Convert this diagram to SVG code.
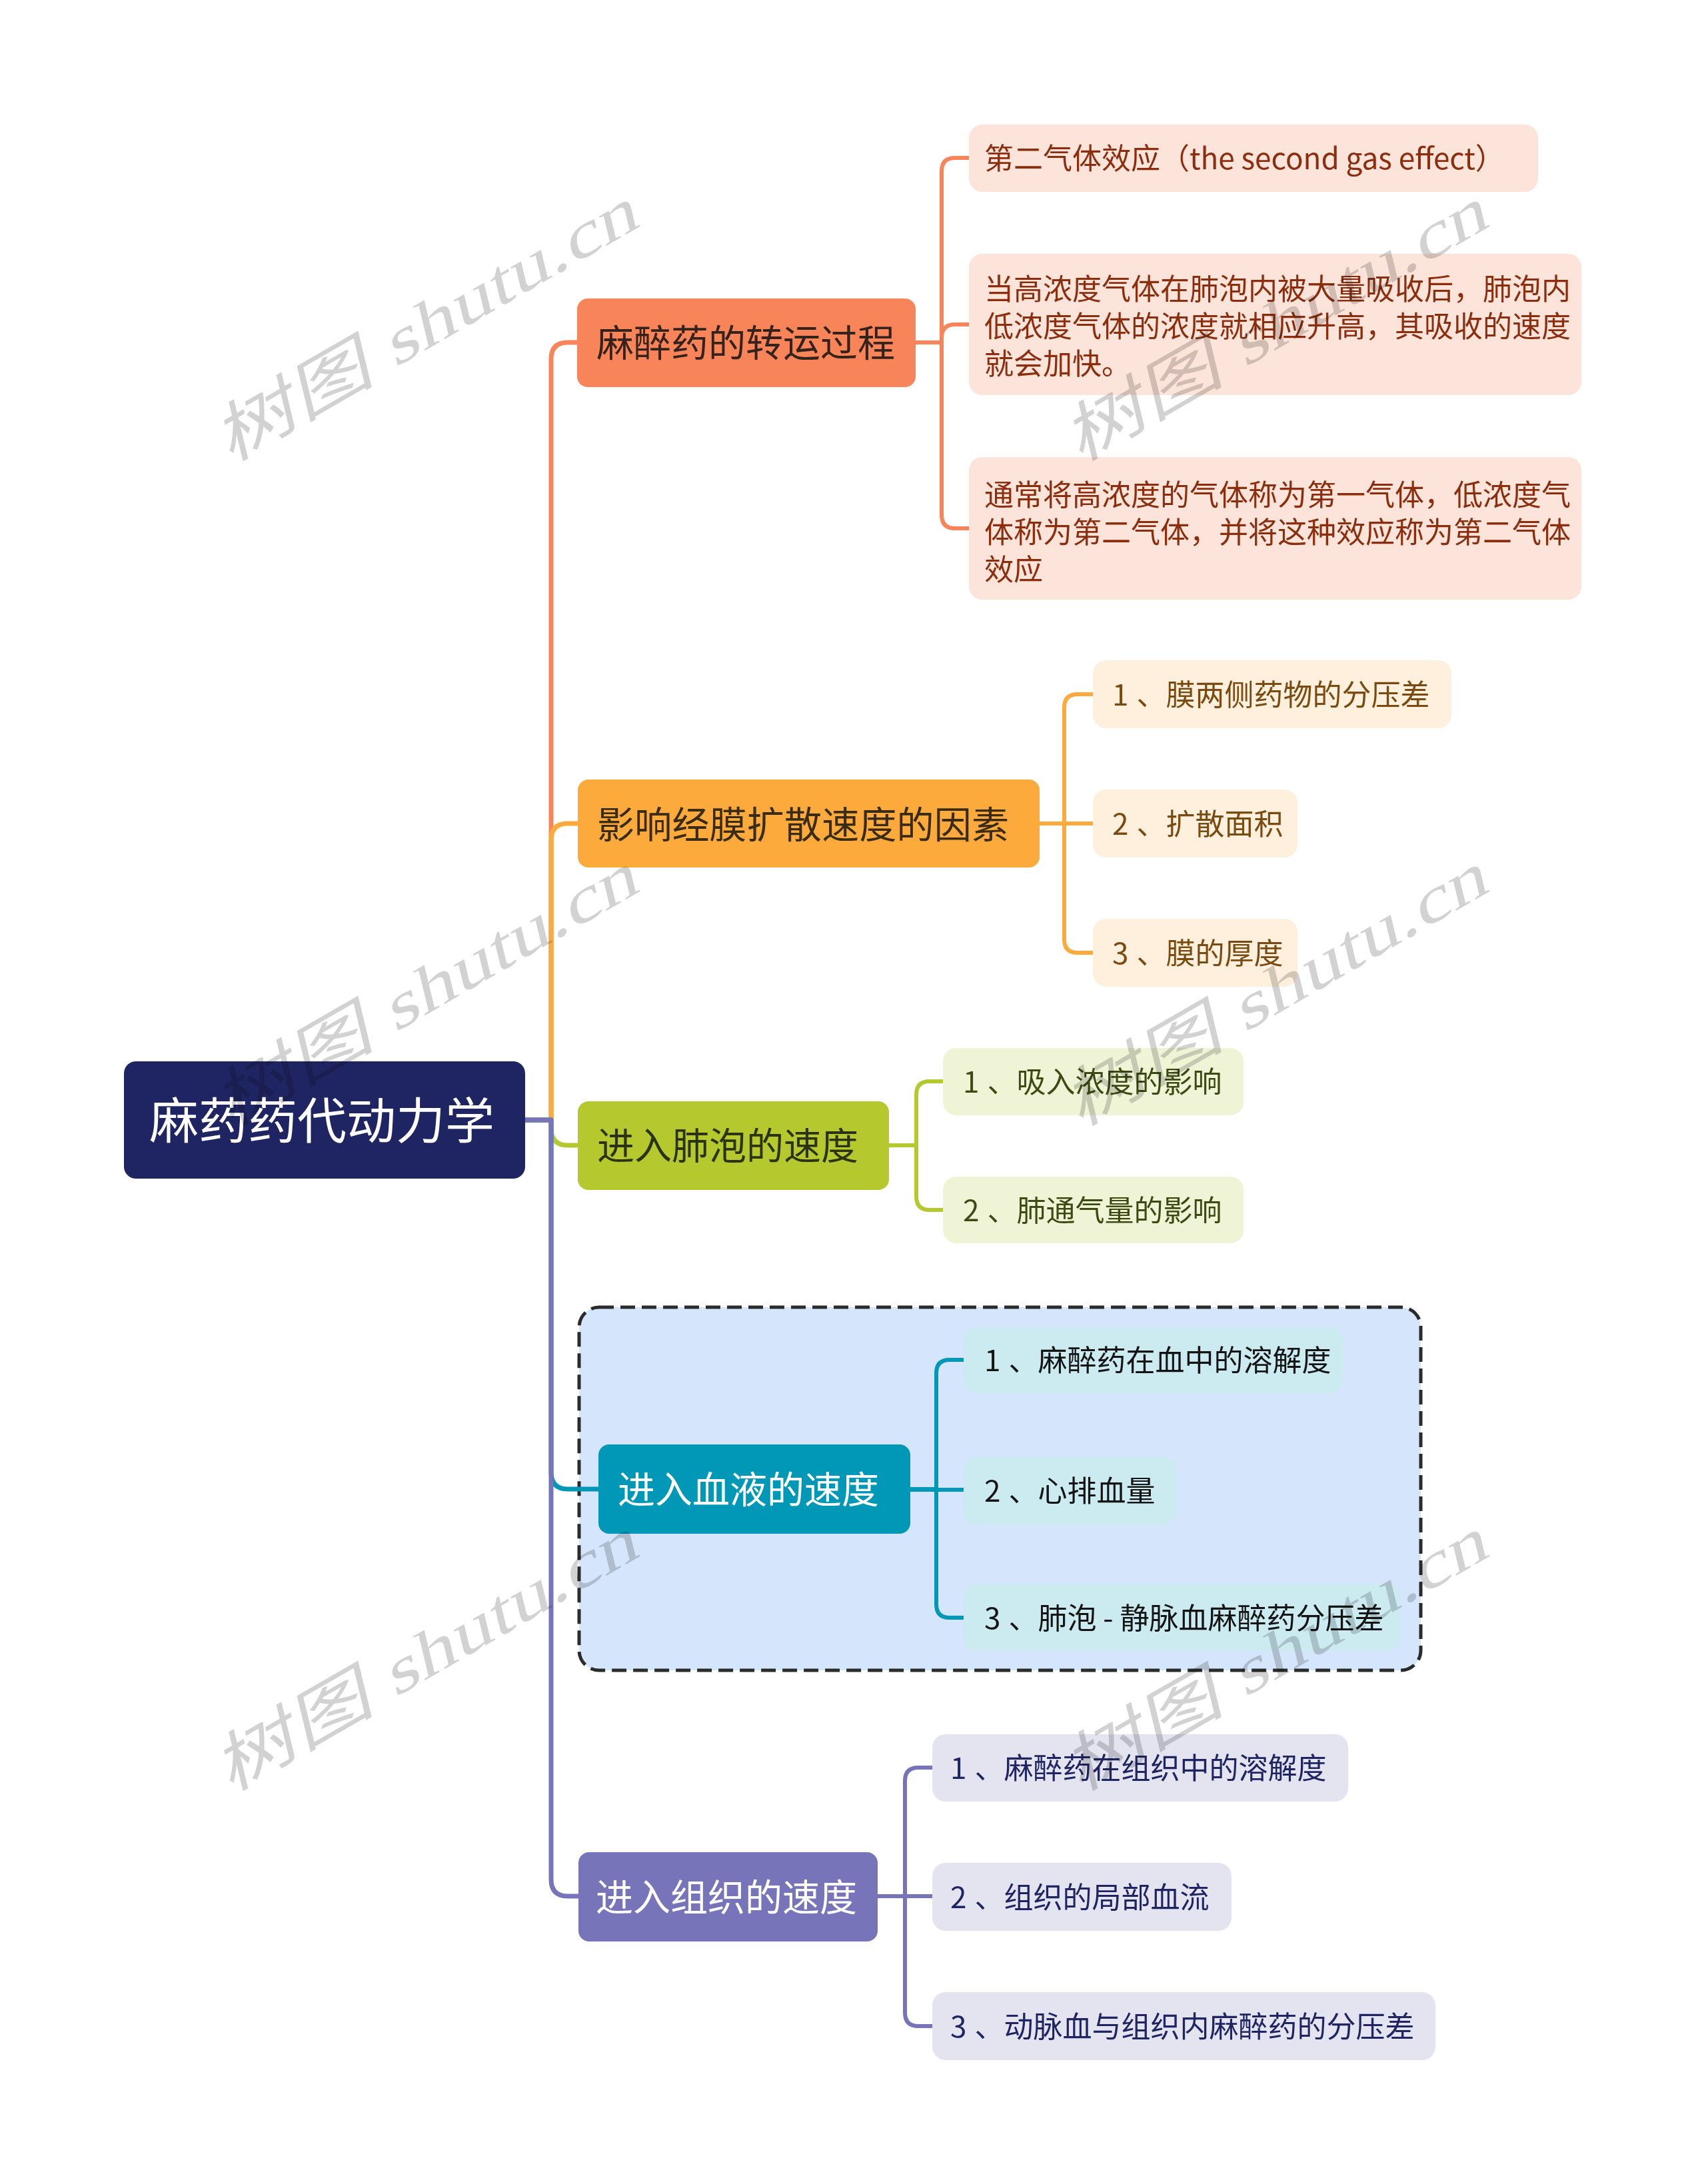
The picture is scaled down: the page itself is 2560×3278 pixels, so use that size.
<svg xmlns="http://www.w3.org/2000/svg" width="2560" height="3278" viewBox="0 0 2560 3278">
<style>
text{font-family:"Noto Sans CJK SC","Noto Sans",sans-serif;}
.main{fill:none;stroke-width:7;stroke-linejoin:round;}
.sub{fill:none;stroke-width:6;stroke-linejoin:round;}
.t56{font-size:56px;}
.t44{font-size:44px;}
.wm{font-family:"Liberation Serif","Noto Sans CJK SC",serif;font-size:110px;fill:#d2d2d2;mix-blend-mode:multiply;}
</style>
<rect width="2560" height="3278" fill="#ffffff"/>
<g id="boundary">
<rect x="869" y="1962" width="1263" height="545" rx="30" fill="#D5E5FB" stroke="#2b2b2b" stroke-width="5" stroke-dasharray="22 10"/>
</g>
<g id="connectors">
<path class="main" stroke="#F8845A" d="M788,1681 H827 V539 Q827,514 852,514 H866"/>
<path class="main" stroke="#FBAA3B" d="M788,1681 H827 V1261 Q827,1236 852,1236 H867"/>
<path class="main" stroke="#B5C92E" d="M788,1681 H827 V1694 Q827,1719 852,1719 H867"/>
<path class="main" stroke="#0098B6" d="M788,1681 H827 V2210 Q827,2235 852,2235 H898"/>
<path class="main" stroke="#7774BA" d="M788,1681 H827 V2821 Q827,2846 852,2846 H868"/>
<path class="sub" stroke="#F8845A" d="M1374,514 H1413 V257 Q1413,237 1433,237 H1454"/>
<path class="sub" stroke="#F8845A" d="M1374,514 H1413 V507 Q1413,487 1433,487 H1454"/>
<path class="sub" stroke="#F8845A" d="M1374,514 H1413 V773 Q1413,793 1433,793 H1454"/>
<path class="sub" stroke="#FBAA3B" d="M1560,1236 H1597 V1062 Q1597,1042 1617,1042 H1640"/>
<path class="sub" stroke="#FBAA3B" d="M1560,1236 H1640"/>
<path class="sub" stroke="#FBAA3B" d="M1560,1236 H1597 V1410 Q1597,1430 1617,1430 H1640"/>
<path class="sub" stroke="#B5C92E" d="M1334,1719 H1375 V1643 Q1375,1623 1395,1623 H1415"/>
<path class="sub" stroke="#B5C92E" d="M1334,1719 H1375 V1796 Q1375,1816 1395,1816 H1415"/>
<path class="sub" stroke="#0098B6" d="M1366,2235 H1405 V2061 Q1405,2041 1425,2041 H1446"/>
<path class="sub" stroke="#0098B6" d="M1366,2236 H1446"/>
<path class="sub" stroke="#0098B6" d="M1366,2235 H1405 V2408 Q1405,2428 1425,2428 H1446"/>
<path class="sub" stroke="#7774BA" d="M1317,2846 H1358 V2673 Q1358,2653 1378,2653 H1399"/>
<path class="sub" stroke="#7774BA" d="M1317,2846 H1399"/>
<path class="sub" stroke="#7774BA" d="M1317,2846 H1358 V3021 Q1358,3041 1378,3041 H1399"/>
</g>
<g id="root">
<rect x="186" y="1593" width="602" height="176" rx="18" fill="#1F2462"/>
<text x="224" y="1709" font-size="74" fill="#ffffff">麻药药代动力学</text>
</g>
<g id="b1">
<rect x="866" y="448" width="508" height="133" rx="16" fill="#F8845A"/>
<text class="t56" x="895" y="535" fill="#35231b">麻醉药的转运过程</text>
</g>
<g id="b1c1">
<rect x="1454" y="187" width="854" height="101" rx="20" fill="#FDE4DA"/>
<text class="t44" x="1477" y="254" fill="#8C2E0E">第二气体效应（the second gas effect）</text>
</g>
<g id="b1c2">
<rect x="1454" y="381" width="919" height="212" rx="20" fill="#FDE4DA"/>
<text class="t44" fill="#8C2E0E"><tspan x="1477" y="450">当高浓度气体在肺泡内被大量吸收后，肺泡内</tspan><tspan x="1477" y="506">低浓度气体的浓度就相应升高，其吸收的速度</tspan><tspan x="1477" y="562">就会加快。</tspan></text>
</g>
<g id="b1c3">
<rect x="1454" y="686" width="919" height="214" rx="20" fill="#FDE4DA"/>
<text class="t44" fill="#8C2E0E"><tspan x="1477" y="759">通常将高浓度的气体称为第一气体，低浓度气</tspan><tspan x="1477" y="815">体称为第二气体，并将这种效应称为第二气体</tspan><tspan x="1477" y="871">效应</tspan></text>
</g>
<g id="b2">
<rect x="867" y="1170" width="693" height="132" rx="16" fill="#FBAA3B"/>
<text class="t56" x="896" y="1258" fill="#3a2c14" textLength="618" lengthAdjust="spacing">影响经膜扩散速度的因素</text>
</g>
<g id="b2c1">
<rect x="1640" y="991" width="538" height="102" rx="20" fill="#FEF0DC"/>
<text class="t44" x="1669" y="1059" fill="#7A4A10">1<tspan dx="12">、膜两侧药物的分压差</tspan></text>
</g>
<g id="b2c2">
<rect x="1640" y="1185" width="307" height="102" rx="20" fill="#FEF0DC"/>
<text class="t44" x="1669" y="1253" fill="#7A4A10">2<tspan dx="12">、扩散面积</tspan></text>
</g>
<g id="b2c3">
<rect x="1640" y="1379" width="307" height="102" rx="20" fill="#FEF0DC"/>
<text class="t44" x="1669" y="1447" fill="#7A4A10">3<tspan dx="12">、膜的厚度</tspan></text>
</g>
<g id="b3">
<rect x="867" y="1653" width="467" height="133" rx="16" fill="#B5C92E"/>
<text class="t56" x="896" y="1740" fill="#2c3312">进入肺泡的速度</text>
</g>
<g id="b3c1">
<rect x="1415" y="1573" width="451" height="101" rx="20" fill="#EFF4D7"/>
<text class="t44" x="1445" y="1640" fill="#3F4A12">1<tspan dx="12">、吸入浓度的影响</tspan></text>
</g>
<g id="b3c2">
<rect x="1415" y="1766" width="451" height="100" rx="20" fill="#EFF4D7"/>
<text class="t44" x="1445" y="1833" fill="#3F4A12">2<tspan dx="12">、肺通气量的影响</tspan></text>
</g>
<g id="b4">
<rect x="898" y="2168" width="468" height="134" rx="16" fill="#0098B6"/>
<text class="t56" x="927" y="2256" fill="#ffffff">进入血液的速度</text>
</g>
<g id="b4c1">
<rect x="1446" y="1992" width="569" height="99" rx="20" fill="#CCEBF1"/>
<text class="t44" x="1477" y="2058" fill="#141414">1<tspan dx="12">、麻醉药在血中的溶解度</tspan></text>
</g>
<g id="b4c2">
<rect x="1446" y="2186" width="319" height="102" rx="20" fill="#CCEBF1"/>
<text class="t44" x="1477" y="2254" fill="#141414">2<tspan dx="12">、心排血量</tspan></text>
</g>
<g id="b4c3">
<rect x="1446" y="2377" width="655" height="101" rx="20" fill="#CCEBF1"/>
<text class="t44" x="1477" y="2445" fill="#141414">3<tspan dx="12">、肺泡 - 静脉血麻醉药分压差</tspan></text>
</g>
<g id="b5">
<rect x="868" y="2780" width="449" height="134" rx="16" fill="#7774BA"/>
<text class="t56" x="894" y="2868" fill="#ffffff">进入组织的速度</text>
</g>
<g id="b5c1">
<rect x="1399" y="2603" width="624" height="101" rx="20" fill="#E4E4F1"/>
<text class="t44" x="1426" y="2670" fill="#1F2462">1<tspan dx="12">、麻醉药在组织中的溶解度</tspan></text>
</g>
<g id="b5c2">
<rect x="1399" y="2796" width="449" height="102" rx="20" fill="#E4E4F1"/>
<text class="t44" x="1426" y="2864" fill="#1F2462">2<tspan dx="12">、组织的局部血流</tspan></text>
</g>
<g id="b5c3">
<rect x="1399" y="2990" width="755" height="102" rx="20" fill="#E4E4F1"/>
<text class="t44" x="1426" y="3058" fill="#1F2462">3<tspan dx="12">、动脉血与组织内麻醉药的分压差</tspan></text>
</g>
<g id="watermarks">
<text class="wm" transform="translate(345,695) skewY(-30) skewX(12)">树图 shutu.cn</text>
<text class="wm" transform="translate(1620,695) skewY(-30) skewX(12)">树图 shutu.cn</text>
<text class="wm" transform="translate(345,1693) skewY(-30) skewX(12)">树图 shutu.cn</text>
<text class="wm" transform="translate(1620,1693) skewY(-30) skewX(12)">树图 shutu.cn</text>
<text class="wm" transform="translate(345,2691) skewY(-30) skewX(12)">树图 shutu.cn</text>
<text class="wm" transform="translate(1620,2691) skewY(-30) skewX(12)">树图 shutu.cn</text>
</g>
</svg>
